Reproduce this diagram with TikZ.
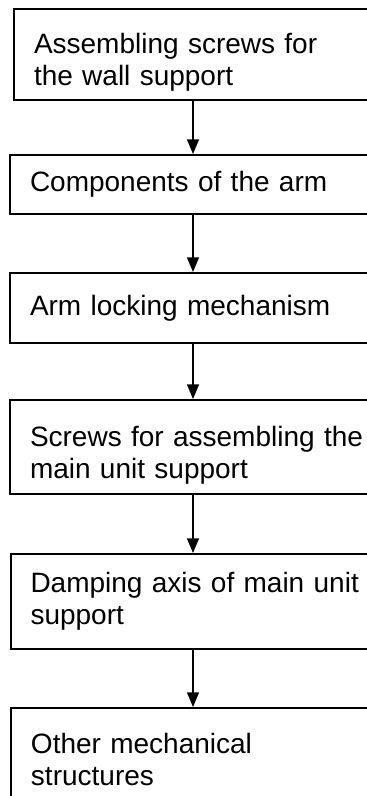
\documentclass[tikz,border=0pt]{standalone}
\usepackage{fontspec}
\setmainfont{Liberation Sans}
\usetikzlibrary{arrows.meta}
\begin{document}
\begin{tikzpicture}[x=0.75pt,y=-0.75pt,
  stepbox/.style={draw=black, line width=1.5pt, anchor=north west, inner xsep=15pt, inner ysep=0pt,
    align=left, text width=300pt, minimum width=330pt, font=\fontsize{21pt}{24pt}\selectfont},
  arr/.style={draw=black, line width=1pt, -{Triangle[width=9pt,length=11pt]}}]
\useasboundingbox (0,0) rectangle (367,796);
\clip (0,0) rectangle (367,796);
\node[stepbox, minimum height=68.6pt] (b1) at (13,7.5)
  {\rule{0pt}{27pt}Assembling screws for\\the wall support};
\node[stepbox, minimum height=44.6pt] (b2) at (9,154)
  {Components of the arm};
\node[stepbox, minimum height=52.5pt] (b3) at (9,272)
  {Arm locking mechanism};
\node[stepbox, minimum height=70.5pt] (b4) at (9,399)
  {\rule{0pt}{27pt}Screws for assembling the\\main unit support};
\node[stepbox, minimum height=71.25pt] (b5) at (9.5,553)
  {Damping axis of main unit\\support};
\node[stepbox, minimum height=77.25pt] (b6) at (10,707)
  {Other mechanical\\structures};
\coordinate (ax) at (193,0);
\draw[arr] (b1.south -| ax) -- (b2.north -| ax);
\draw[arr] (b2.south -| ax) -- (b3.north -| ax);
\draw[arr] (b3.south -| ax) -- (b4.north -| ax);
\draw[arr] (b4.south -| ax) -- (b5.north -| ax);
\draw[arr] (b5.south -| ax) -- (b6.north -| ax);
\end{tikzpicture}
\end{document}
